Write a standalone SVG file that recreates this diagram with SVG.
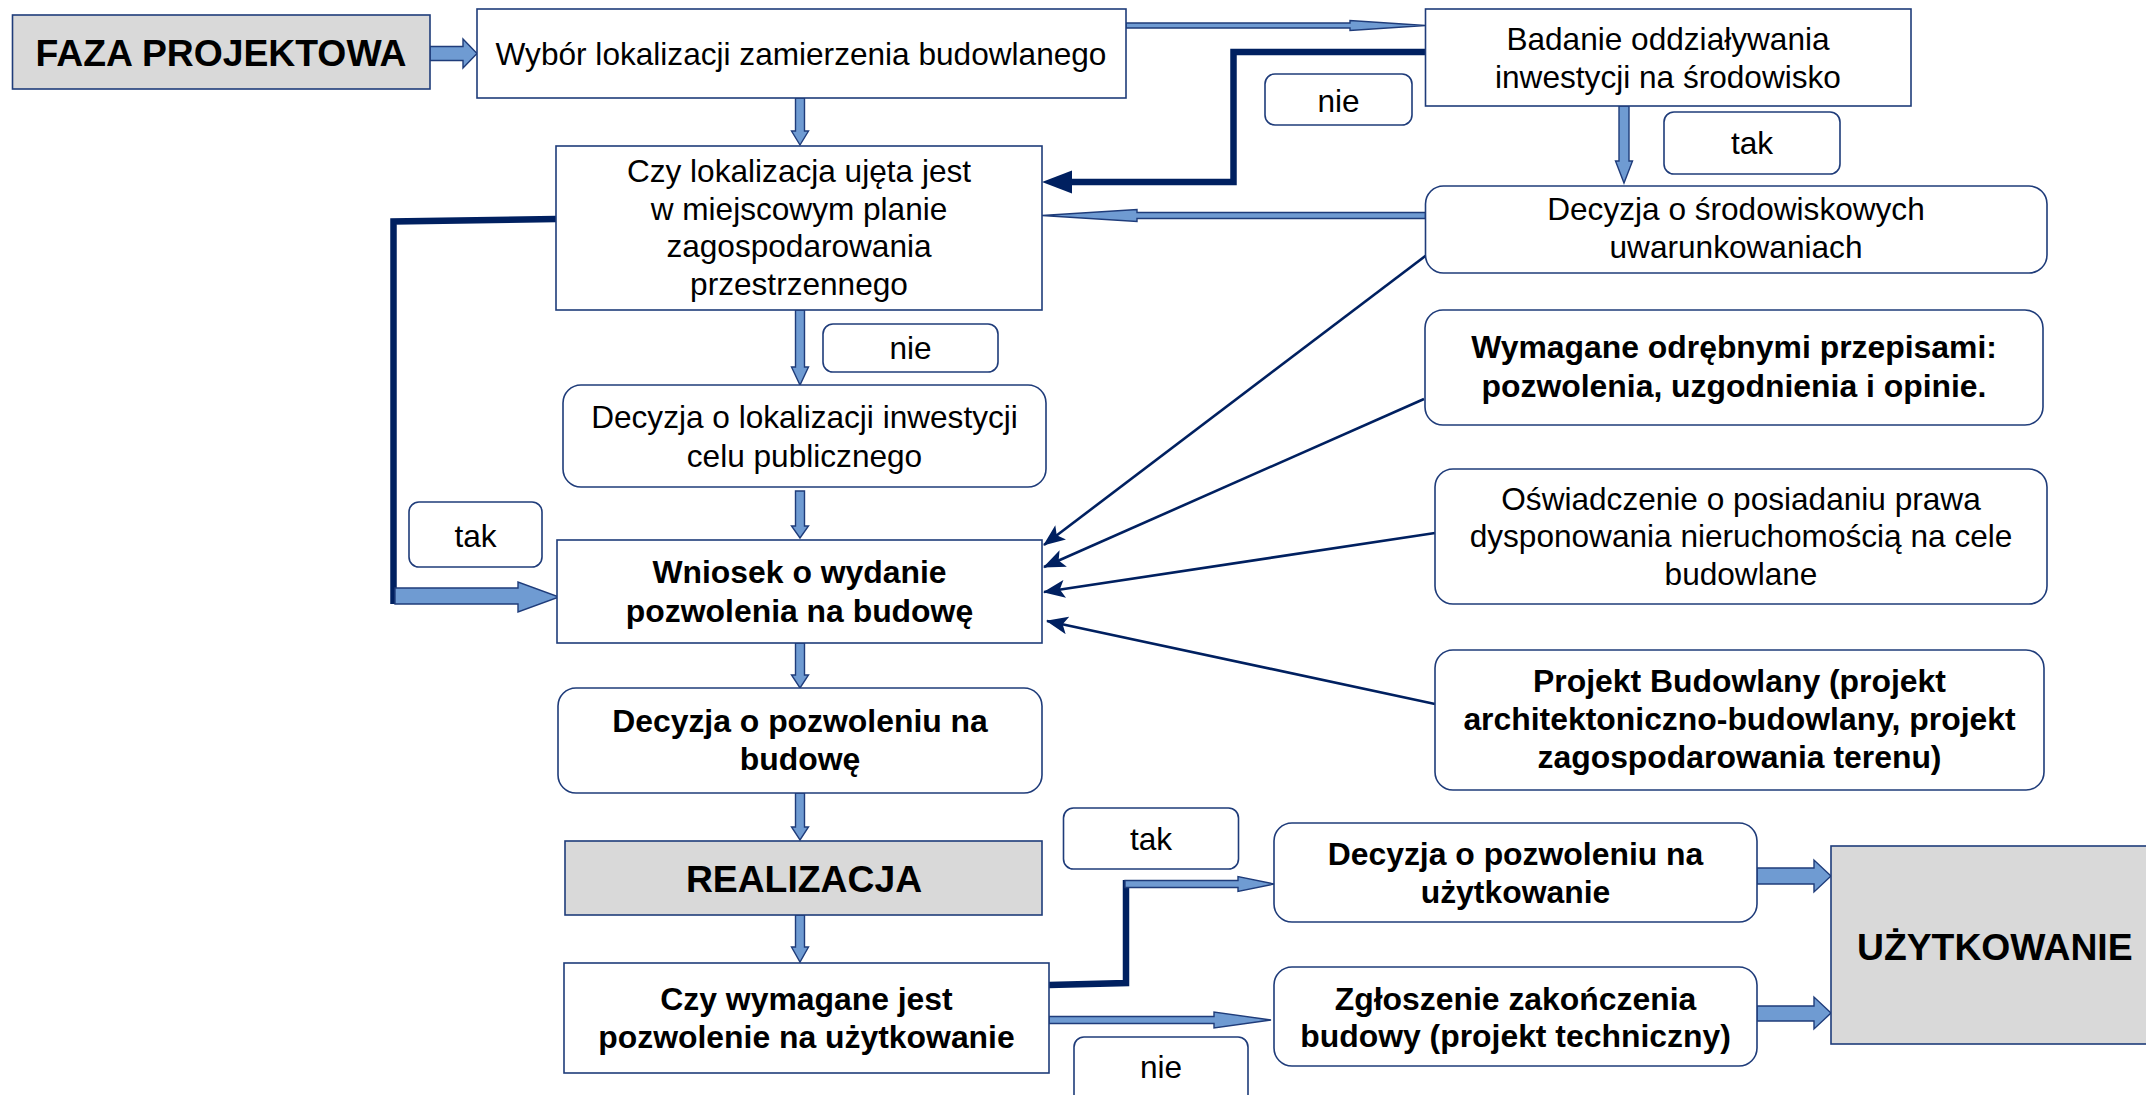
<svg xmlns="http://www.w3.org/2000/svg" width="2146" height="1095" viewBox="0 0 2146 1095">
<defs>
<style>
.box{fill:#ffffff;stroke:#1f3c7a;stroke-width:1.6}
.gray{fill:#d9d9d9;stroke:#1f3c7a;stroke-width:1.6}
.t{font-family:"Liberation Sans",Arial,sans-serif;font-size:31.6px;fill:#000;text-anchor:middle}
.b{font-weight:bold;font-size:31.9px}
.big{font-family:"Liberation Sans",Arial,sans-serif;font-size:37.3px;font-weight:bold;fill:#000}
.ba{fill:#6f9bd2;stroke:#1f3c7a;stroke-width:1.4;stroke-linejoin:miter}
.thick{fill:none;stroke:#002060;stroke-width:6.5;stroke-linejoin:miter;stroke-linecap:butt}
.thin{fill:none;stroke:#002060;stroke-width:2.6}
</style>
<marker id="ah" viewBox="0 0 22 18" markerWidth="22" markerHeight="18" refX="21" refY="9" orient="auto" markerUnits="userSpaceOnUse">
<path d="M0,0 L22,9 L0,18 L5,9 z" fill="#002060"/>
</marker>
</defs>
<rect width="2146" height="1095" fill="#ffffff"/>

<g id="connectors">
<polygon class="ba" points="430,46.5 463,46.5 463,39 477,53.5 463,68 463,60.5 430,60.5"/>
<polygon class="ba" points="1126,23 1350,23 1350,20.5 1425.5,25.5 1350,30.5 1350,28 1126,28"/>
<polygon class="ba" points="795.5,98 804.5,98 804.5,131 808.5,131 800,145 791.5,131 795.5,131"/>
<polygon class="ba" points="1619,106 1629,106 1629,161 1632.5,161 1624,183 1615.5,161 1619,161"/>
<polygon class="ba" points="1425.5,212.5 1137,212.5 1137,209.5 1042,215.5 1137,221.5 1137,218.5 1425.5,218.5"/>
<path class="thick" d="M1425.5,52 H1233.5 V182 H1068"/>
<polygon points="1042,182 1072,170.5 1072,193.5" fill="#002060"/>
<polygon class="ba" points="795.5,310 804.5,310 804.5,367 808.5,367 800,385 791.5,367 795.5,367"/>
<polygon class="ba" points="795.5,491 804.5,491 804.5,526 808.5,526 800,538 791.5,526 795.5,526"/>
<path class="thick" d="M556,219 L393.5,221.5 V604"/>
<polygon class="ba" points="395,588 518,588 518,582 559,597 518,612 518,604 395,604"/>
<polygon class="ba" points="795.5,643 804.5,643 804.5,675 808.5,675 800,688 791.5,675 795.5,675"/>
<polygon class="ba" points="795.5,793 804.5,793 804.5,827 808.5,827 800,840 791.5,827 795.5,827"/>
<polygon class="ba" points="795.5,915 804.5,915 804.5,947 808.5,947 800,962 791.5,947 795.5,947"/>
<path class="thick" d="M1049,985 L1126,983 V880"/>
<polygon class="ba" points="1125,880.5 1238,880.5 1238,876.5 1274,884 1238,891.5 1238,887.5 1125,887.5"/>
<polygon class="ba" points="1049,1016.5 1214,1016.5 1214,1012 1271,1020 1214,1028 1214,1023.5 1049,1023.5"/>
<polygon class="ba" points="1757,868 1814,868 1814,860 1831,876 1814,892 1814,884 1757,884"/>
<polygon class="ba" points="1757,1006 1814,1006 1814,997 1831,1013 1814,1029 1814,1021 1757,1021"/>
<line class="thin" x1="1428" y1="254" x2="1044" y2="545" marker-end="url(#ah)"/>
<line class="thin" x1="1424" y1="399" x2="1044" y2="567" marker-end="url(#ah)"/>
<line class="thin" x1="1435" y1="533" x2="1044" y2="592" marker-end="url(#ah)"/>
<line class="thin" x1="1435" y1="704" x2="1047" y2="621" marker-end="url(#ah)"/>
</g>

<g id="faza">
<rect class="gray" x="12.5" y="15" width="417.5" height="74"/>
<text class="big" x="221" y="65.5" text-anchor="middle">FAZA PROJEKTOWA</text>
</g>
<g id="wybor">
<rect class="box" x="477" y="9" width="649" height="89"/>
<text class="t" x="801" y="65">Wybór lokalizacji zamierzenia budowlanego</text>
</g>
<g id="badanie">
<rect class="box" x="1425.5" y="9" width="485.5" height="97"/>
<text class="t"><tspan x="1668" y="50">Badanie oddziaływania</tspan><tspan x="1668" y="88">inwestycji na środowisko</tspan></text>
</g>
<g id="czy-lokalizacja">
<rect class="box" x="556" y="146" width="486" height="164"/>
<text class="t"><tspan x="799" y="182">Czy lokalizacja ujęta jest</tspan><tspan x="799" y="220">w miejscowym planie</tspan><tspan x="799" y="257">zagospodarowania</tspan><tspan x="799" y="295">przestrzennego</tspan></text>
</g>
<g id="decyzja-srodowiskowa">
<rect class="box" x="1425.5" y="186" width="621.5" height="87" rx="18"/>
<text class="t"><tspan x="1736" y="220">Decyzja o środowiskowych</tspan><tspan x="1736" y="258">uwarunkowaniach</tspan></text>
</g>
<g id="wymagane">
<rect class="box" x="1425" y="310" width="618" height="115" rx="18"/>
<text class="t b"><tspan x="1734" y="358">Wymagane odrębnymi przepisami:</tspan><tspan x="1734" y="397">pozwolenia, uzgodnienia i opinie.</tspan></text>
</g>
<g id="decyzja-lokalizacji">
<rect class="box" x="563" y="385" width="483" height="102" rx="18"/>
<text class="t"><tspan x="804.5" y="428">Decyzja o lokalizacji inwestycji</tspan><tspan x="804.5" y="467">celu publicznego</tspan></text>
</g>
<g id="oswiadczenie">
<rect class="box" x="1435" y="469" width="612" height="135" rx="18"/>
<text class="t"><tspan x="1741" y="510">Oświadczenie o posiadaniu prawa</tspan><tspan x="1741" y="547">dysponowania nieruchomością na cele</tspan><tspan x="1741" y="585">budowlane</tspan></text>
</g>
<g id="wniosek">
<rect class="box" x="557" y="540" width="485" height="103"/>
<text class="t b"><tspan x="799.5" y="583">Wniosek o wydanie</tspan><tspan x="799.5" y="622">pozwolenia na budowę</tspan></text>
</g>
<g id="projekt-budowlany">
<rect class="box" x="1435" y="650" width="609" height="140" rx="18"/>
<text class="t b"><tspan x="1739.5" y="692">Projekt Budowlany (projekt</tspan><tspan x="1739.5" y="730">architektoniczno-budowlany, projekt</tspan><tspan x="1739.5" y="768">zagospodarowania terenu)</tspan></text>
</g>
<g id="decyzja-budowa">
<rect class="box" x="558" y="688" width="484" height="105" rx="18"/>
<text class="t b"><tspan x="800" y="732">Decyzja o pozwoleniu na</tspan><tspan x="800" y="770">budowę</tspan></text>
</g>
<g id="realizacja">
<rect class="gray" x="565" y="841" width="477" height="74"/>
<text class="big" x="804" y="892" text-anchor="middle">REALIZACJA</text>
</g>
<g id="czy-wymagane">
<rect class="box" x="564" y="963" width="485" height="110"/>
<text class="t b"><tspan x="806.5" y="1010">Czy wymagane jest</tspan><tspan x="806.5" y="1048">pozwolenie na użytkowanie</tspan></text>
</g>
<g id="decyzja-uzytkowanie">
<rect class="box" x="1274" y="823" width="483" height="99" rx="18"/>
<text class="t b"><tspan x="1515.5" y="865">Decyzja o pozwoleniu na</tspan><tspan x="1515.5" y="903">użytkowanie</tspan></text>
</g>
<g id="zgloszenie">
<rect class="box" x="1274" y="967" width="483" height="99" rx="18"/>
<text class="t b"><tspan x="1515.5" y="1010">Zgłoszenie zakończenia</tspan><tspan x="1515.5" y="1047">budowy (projekt techniczny)</tspan></text>
</g>
<g id="uzytkowanie">
<rect class="gray" x="1831" y="846" width="330" height="198"/>
<text class="big" x="1857" y="960">UŻYTKOWANIE</text>
</g>

<g id="label-nie-1"><rect class="box" x="1265" y="74" width="147" height="51" rx="10"/><text class="t" x="1338.5" y="112">nie</text></g>
<g id="label-tak-1"><rect class="box" x="1664" y="112" width="176" height="62" rx="10"/><text class="t" x="1752" y="154">tak</text></g>
<g id="label-nie-2"><rect class="box" x="823" y="324" width="175" height="48" rx="10"/><text class="t" x="910.5" y="359">nie</text></g>
<g id="label-tak-2"><rect class="box" x="409" y="502" width="133" height="65" rx="10"/><text class="t" x="475.5" y="547">tak</text></g>
<g id="label-tak-3"><rect class="box" x="1063.5" y="808" width="175" height="61" rx="10"/><text class="t" x="1151" y="850">tak</text></g>
<g id="label-nie-3"><rect class="box" x="1074" y="1037" width="174" height="70" rx="10"/><text class="t" x="1161" y="1078">nie</text></g>
</svg>
